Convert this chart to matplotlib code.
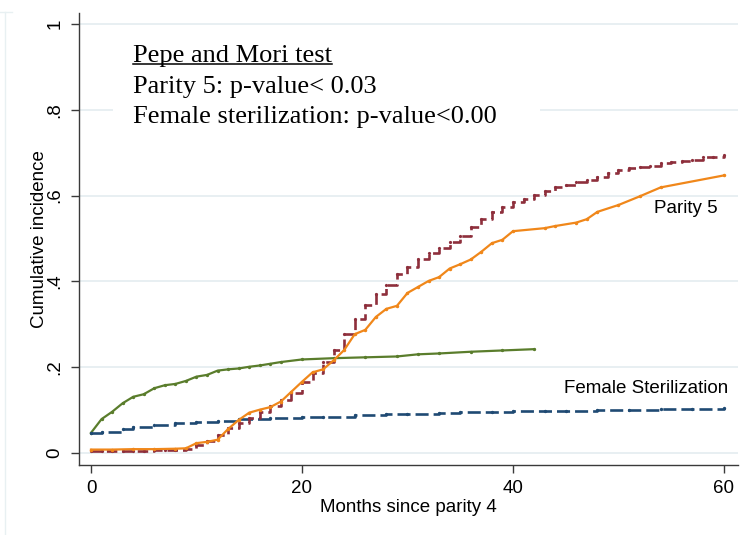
import matplotlib
matplotlib.use("Agg")
import matplotlib.pyplot as plt
from matplotlib.lines import Line2D
from matplotlib.patches import Rectangle

# Parity 5: observed cumulative incidence (step function, monthly)
p5_obs_month = list(range(0, 61))
p5_obs_cif = [0.005, 0.005, 0.005, 0.005, 0.005, 0.005, 0.006, 0.006, 0.007, 0.010,
              0.019, 0.029, 0.042, 0.058, 0.070, 0.082, 0.096, 0.110, 0.124, 0.140,
              0.165, 0.187, 0.213, 0.240, 0.278, 0.313, 0.346, 0.370, 0.391, 0.417,
              0.434, 0.452, 0.467, 0.478, 0.491, 0.506, 0.526, 0.546, 0.562, 0.574,
              0.586, 0.592, 0.601, 0.611, 0.619, 0.625, 0.632, 0.637, 0.644, 0.653,
              0.660, 0.664, 0.667, 0.670, 0.675, 0.678, 0.680, 0.683, 0.689, 0.691,
              0.695]

# Parity 5: second estimate (polyline)
p5_fit_month = [0, 2, 4, 6, 8, 9, 10, 11, 12, 13, 14, 15, 16, 17, 18, 19, 20, 21, 22, 23,
                24, 25, 26, 27, 28, 29, 30, 31, 32, 33, 34, 35, 36, 37, 38, 39, 40,
                43, 44, 46, 47, 48, 50, 52, 54, 60]
p5_fit_cif = [0.008, 0.008, 0.009, 0.009, 0.010, 0.011,
              0.023, 0.026, 0.031, 0.056, 0.077, 0.094, 0.101, 0.107, 0.120, 0.143,
              0.166, 0.188, 0.195, 0.216, 0.240, 0.277, 0.287, 0.317, 0.336, 0.343,
              0.373, 0.387, 0.401, 0.410, 0.430, 0.440, 0.451, 0.469, 0.489, 0.497,
              0.517, 0.524, 0.529, 0.537, 0.545, 0.562, 0.578, 0.598, 0.619, 0.647]

# Female sterilization: observed (step function)
fs_obs_month = [0, 1, 3, 4, 6, 8, 10, 12, 14, 15, 17, 20, 22, 25, 28, 30, 33, 35, 38, 40,
                43, 45, 48, 51, 54, 57, 60]
fs_obs_cif = [0.046, 0.050, 0.055, 0.061, 0.066, 0.069, 0.072, 0.075, 0.079, 0.080,
              0.082, 0.084, 0.085, 0.088, 0.090, 0.091, 0.093, 0.095, 0.096, 0.097,
              0.098, 0.099, 0.100, 0.101, 0.102, 0.103, 0.104]

# Female sterilization: second estimate (polyline)
fs_fit_month = [0, 1, 2, 3, 4, 5, 6, 7, 8, 9, 10, 11, 12, 13, 14, 15, 16, 17, 18,
                20, 23, 26, 29, 31, 33, 36, 39, 42]
fs_fit_cif = [0.047, 0.079, 0.096, 0.116, 0.131, 0.137, 0.151, 0.158, 0.161, 0.168,
              0.178, 0.182, 0.192, 0.195, 0.197, 0.201, 0.204, 0.208, 0.212,
              0.218, 0.221, 0.223, 0.225, 0.230, 0.232, 0.236, 0.239, 0.242]

x_ticks = [0, 20, 40, 60]
x_ticklabels = ["0", "20", "40", "60"]
y_ticks = [0, 0.2, 0.4, 0.6, 0.8, 1.0]
y_ticklabels = ["0", ".2", ".4", ".6", ".8", "1"]

test_lines = ["Pepe and Mori test",
              "Parity 5: p-value< 0.03",
              "Female sterilization: p-value<0.00"]

plt.rcParams['font.family'] = ['Liberation Sans', 'DejaVu Sans']
plt.rcParams['lines.scale_dashes'] = False

MAROON = '#8E2F3C'
ORANGE = '#F0871A'
GREEN = '#5A7D2C'
NAVY = '#1F4A73'
GRID = '#E6EEF1'
AXIS = '#3A3A3A'

fig = plt.figure(figsize=(7.5, 5.35), dpi=100)
fig.patch.set_facecolor('white')
ax = fig.add_axes([0.1053, 0.1308, 0.8787, 0.845])

# faint outer frame
fig.add_artist(Line2D([5 / 750, 5 / 750], [0, 1 - 12 / 535], transform=fig.transFigure,
                      color='#E8F0F2', lw=1))
fig.add_artist(Line2D([0, 12 / 750], [1 - 12 / 535, 1 - 12 / 535], transform=fig.transFigure,
                      color='#E8F0F2', lw=1))

ax.set_xlim(-1.14, 61.33)
ax.set_ylim(-0.028, 1.0256)

ax.set_axisbelow(True)
ax.yaxis.grid(True, color=GRID, lw=1.3)
ax.xaxis.grid(False)

for s in ['top', 'right']:
    ax.spines[s].set_visible(False)
for s in ['left', 'bottom']:
    ax.spines[s].set_color(AXIS)
    ax.spines[s].set_linewidth(1.0)

ax.set_xticks(x_ticks)
ax.set_xticklabels(x_ticklabels)
ax.set_yticks(y_ticks)
ax.set_yticklabels(y_ticklabels, rotation=90, va='center')
ax.tick_params(axis='both', direction='out', length=6, width=1.0, color=AXIS,
               labelsize=13.5, labelcolor='black')
ax.tick_params(axis='x', pad=5)
ax.tick_params(axis='y', pad=5)

ax.set_xlabel("Months since parity 4", fontsize=13.5, labelpad=1)
ax.set_ylabel("Cumulative incidence", fontsize=13.5, labelpad=-1)

# white panel behind the test results
ax.add_patch(Rectangle((0.052, 0.741), 0.648, 0.21, transform=ax.transAxes,
                       facecolor='white', edgecolor='none', zorder=1.5))

l_fs_fit, = ax.plot(fs_fit_month, fs_fit_cif, color=GREEN, lw=1.6,
                    marker='o', markersize=1.4, zorder=3)
l_fs_obs, = ax.plot(fs_obs_month, fs_obs_cif, color=NAVY, lw=1.9,
                    drawstyle='steps-post', marker='o', markersize=1.4, zorder=3)
l_fs_obs.set_dashes((9.4, 3.6))
l_p5_obs, = ax.plot(p5_obs_month, p5_obs_cif, color=MAROON, lw=1.9,
                    drawstyle='steps-post', marker='o', markersize=1.3, zorder=4)
l_p5_obs.set_dashes((7.5, 3.6))
l_p5_fit, = ax.plot(p5_fit_month, p5_fit_cif, color=ORANGE, lw=1.6,
                    marker='o', markersize=1.5, zorder=5)

ax.text(53.4, 0.559, "Parity 5", fontsize=13.5, ha='left', va='baseline', zorder=6)
ax.text(60.4, 0.139, "Female Sterilization", fontsize=13.5, ha='right', va='baseline',
        zorder=6)

serif = ['Liberation Serif', 'DejaVu Serif']
baselines = [0.892, 0.823, 0.757]
texts = []
for line, yb in zip(test_lines, baselines):
    t = ax.text(0.082, yb, line, transform=ax.transAxes, fontsize=19, family=serif,
                ha='left', va='baseline', zorder=6)
    texts.append(t)

# underline the heading
fig.canvas.draw()
bb = texts[0].get_window_extent(renderer=fig.canvas.get_renderer())
x0, x1 = bb.x0 / fig.bbox.width, bb.x1 / fig.bbox.width
yb_disp = ax.transAxes.transform((0, baselines[0]))[1]
yu = (yb_disp - 2) / fig.bbox.height
fig.add_artist(Line2D([x0, x1], [yu, yu], transform=fig.transFigure, color='black',
                      lw=1.1, zorder=7))

fig.savefig("out.png", dpi=100, facecolor='white')
